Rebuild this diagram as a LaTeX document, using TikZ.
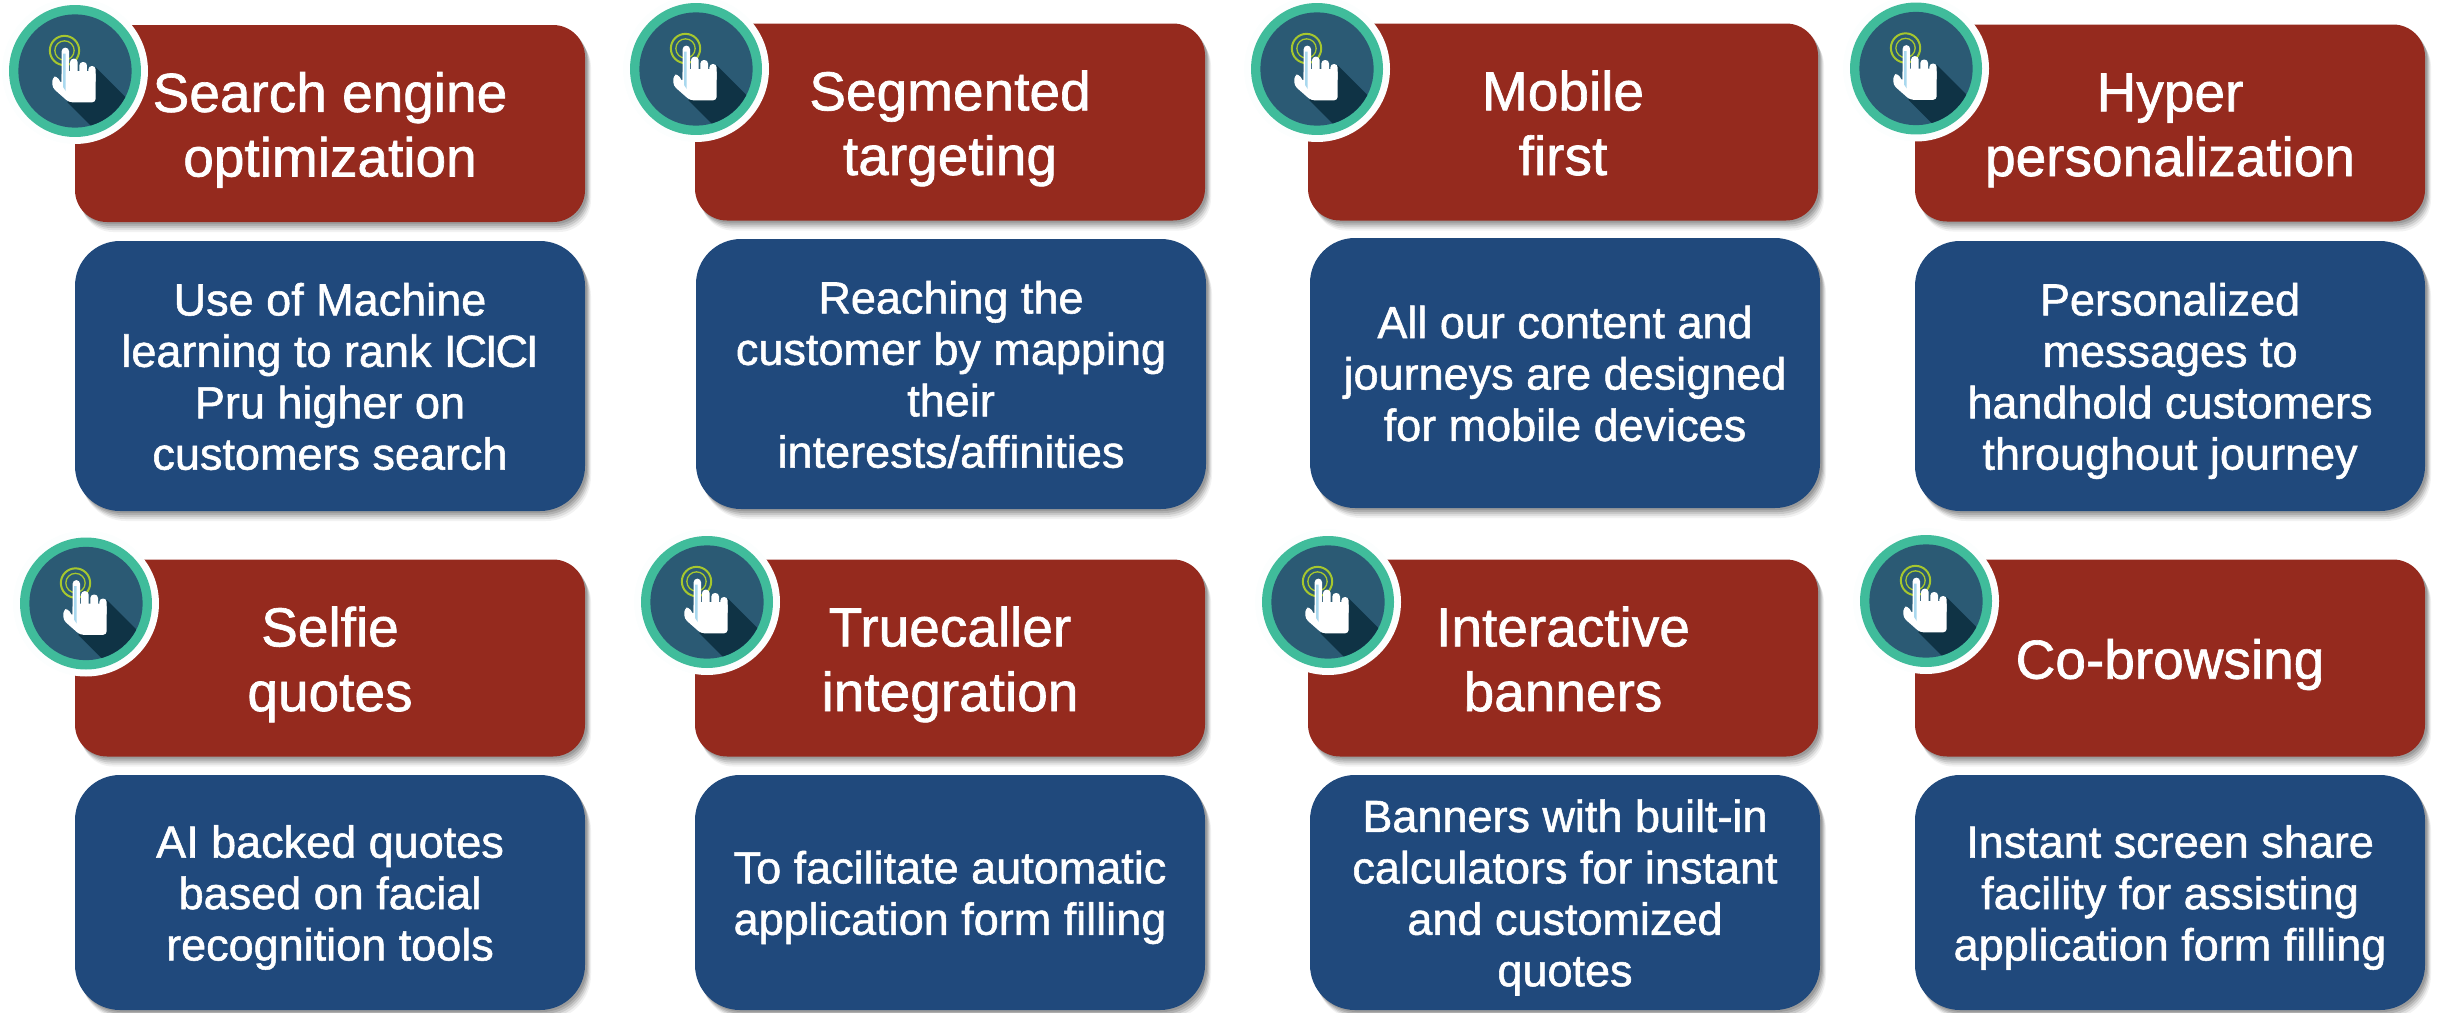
\documentclass[tikz,border=0pt]{standalone}
\usepackage{fontspec}
\setmainfont{Liberation Sans}[FakeBold=1.2]
\usetikzlibrary{shadows,calc}
\definecolor{cred}{HTML}{952A1E}
\definecolor{cblue}{HTML}{20497C}
\definecolor{cteal}{HTML}{40BC9B}
\definecolor{cdisc}{HTML}{2B5A74}
\definecolor{cshade}{HTML}{0F3345}
\definecolor{clime}{HTML}{A6C72E}
\definecolor{cpale}{HTML}{A9D8EE}
\definecolor{cgap}{HTML}{FCFEFE}
\tikzset{
  softshadow/.style={
    general shadow={shadow xshift=6pt,shadow yshift=-10pt,fill=black,opacity=.05},
    general shadow={shadow xshift=5pt,shadow yshift=-8pt,fill=black,opacity=.08},
    general shadow={shadow xshift=4pt,shadow yshift=-6pt,fill=black,opacity=.10},
    general shadow={shadow xshift=3pt,shadow yshift=-4pt,fill=black,opacity=.12},
    general shadow={shadow xshift=2pt,shadow yshift=-2pt,fill=black,opacity=.12}},
  cardbox/.style={softshadow,rectangle,minimum width=510pt,text=white,inner sep=0pt},
  headbox/.style={cardbox,rounded corners=32pt,fill=cred,minimum height=197pt,
    font=\fontsize{55}{64.6}\selectfont},
  bodybox/.style={cardbox,rounded corners=45pt,fill=cblue,
    font=\fontsize{45}{51.4}\selectfont},
  tall/.style={minimum height=270pt},
  short/.style={minimum height=235pt},
  fingerbar/.style={fill=white,rounded corners=3.5pt},
}
\newcommand{\cardlines}[2]{\raisebox{-#1}[0pt][0pt]{\begin{tabular}{@{}c@{}}#2\end{tabular}}}
\newcommand{\tapicon}[2]{%
  \begin{scope}[shift={(#1,#2)},x=.3333pt,y=-.3333pt]
    \fill[cgap] (0,0) circle[radius=219];
    \fill[cteal] (0,0) circle[radius=198];
    \fill[cdisc] (0,0) circle[radius=170];
    \begin{scope}
      \clip (0,0) circle[radius=170];
      \fill[cshade] (62,-11) -- (250,177) -- (83,200) -- (-23,94) -- cycle;
    \end{scope}
    \draw[clime,line width=2pt] (-31.5,-61.5) circle[radius=44];
    \draw[clime,line width=1.3pt] (-31.5,-61.5) circle[radius=29];
    \fill[fingerbar] (-40,-70) rectangle (-18,40);
    \fill[fingerbar] (-15,-37) rectangle (8,40);
    \fill[fingerbar] (13,-27) rectangle (36,40);
    \fill[fingerbar] (40,-15) rectangle (62,40);
    \fill[white,rounded corners=3.5pt] (-68,19) -- (-54,15) -- (-40,40) -- (-40,0) -- (62,0)
      -- (62,94) -- (-18,94) -- (-68,50) -- cycle;
    \fill[cpale] (-36,-52) -- (-28,-52) -- (-28,60) -- (-36,48) -- cycle;
  \end{scope}}
\begin{document}
\begin{tikzpicture}[x=1pt,y=-1pt]
  \useasboundingbox (0,0) rectangle (2440,1012);
  % row 1 headers
  \node[headbox] (h1) at (330,123.5) {\cardlines{14pt}{Search engine\\optimization}};
  \node[headbox] (h2) at (950,122) {\cardlines{14pt}{Segmented\\targeting}};
  \node[headbox] (h3) at (1563,122) {\cardlines{14pt}{Mobile\\first}};
  \node[headbox] (h4) at (2170,123) {\cardlines{14pt}{Hyper\\personalization}};
  % row 1 bodies
  \node[bodybox,tall] (b1) at (330,376) {\cardlines{12.5pt}{Use of Machine\\learning to rank I\kern-2pt C\kern-2pt I\kern-2pt C\kern-2pt I\\Pru higher on\\customers search}};
  \node[bodybox,tall] (b2) at (951,374) {\cardlines{12.5pt}{Reaching the\\customer by mapping\\their\\interests/affinities}};
  \node[bodybox,tall] (b3) at (1565,373) {\cardlines{12.5pt}{All our content and\\journeys are designed\\for mobile devices}};
  \node[bodybox,tall] (b4) at (2170,376) {\cardlines{12.5pt}{Personalized\\messages to\\handhold customers\\throughout journey}};
  % row 2 headers
  \node[headbox] (h5) at (330,658) {\cardlines{14pt}{Selfie\\quotes}};
  \node[headbox] (h6) at (950,658) {\cardlines{14pt}{Truecaller\\integration}};
  \node[headbox] (h7) at (1563,658) {\cardlines{14pt}{Interactive\\banners}};
  \node[headbox] (h8) at (2170,658) {\cardlines{14pt}{Co-browsing}};
  % row 2 bodies
  \node[bodybox,short] (b5) at (330,892.5) {\cardlines{12.5pt}{AI backed quotes\\based on facial\\recognition tools}};
  \node[bodybox,short] (b6) at (950,892.5) {\cardlines{12.5pt}{To facilitate automatic\\application form filling}};
  \node[bodybox,short] (b7) at (1565,892.5) {\cardlines{12.5pt}{Banners with built-in\\calculators for instant\\and customized\\quotes}};
  \node[bodybox,short] (b8) at (2170,892.5) {\cardlines{12.5pt}{Instant screen share\\facility for assisting\\application form filling}};
  % icons
  \tapicon{75}{71}
  \tapicon{696}{69}
  \tapicon{1317}{69}
  \tapicon{1916}{68.5}
  \tapicon{86}{603.5}
  \tapicon{707}{602}
  \tapicon{1328}{602}
  \tapicon{1926}{601}
\end{tikzpicture}
\end{document}
